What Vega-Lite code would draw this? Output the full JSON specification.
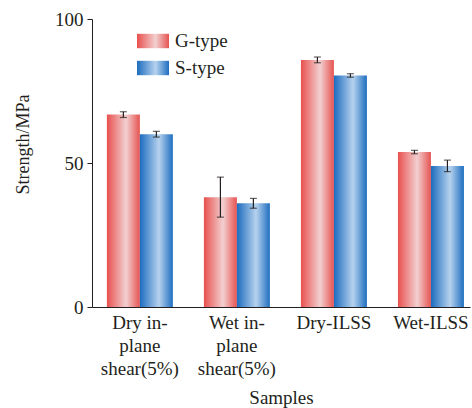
{
  "$schema": "https://vega.github.io/schema/vega-lite/v6.json",
  "width": 378,
  "height": 288,
  "autosize": "none",
  "padding": {"left": 92, "top": 19, "right": 2, "bottom": 101},
  "background": "white",
  "config": {
    "view": {"stroke": null},
    "font": "Liberation Serif",
    "axis": {"labelFont": "Liberation Serif", "titleFont": "Liberation Serif", "labelColor": "#231f20", "titleColor": "#231f20", "domainColor": "#231f20", "tickColor": "#231f20", "grid": false, "titleFontWeight": "normal"}
  },
  "data": {
    "values": [
      {"cat": "Dry in-|plane|shear(5%)", "type": "G-type", "val": 66.8, "lo": 65.8, "hi": 67.8},
      {"cat": "Dry in-|plane|shear(5%)", "type": "S-type", "val": 60.0, "lo": 59.0, "hi": 61.0},
      {"cat": "Wet in-|plane|shear(5%)", "type": "G-type", "val": 38.1, "lo": 31.2, "hi": 45.1},
      {"cat": "Wet in-|plane|shear(5%)", "type": "S-type", "val": 36.0, "lo": 34.3, "hi": 37.7},
      {"cat": "Dry-ILSS", "type": "G-type", "val": 85.8, "lo": 84.8, "hi": 86.8},
      {"cat": "Dry-ILSS", "type": "S-type", "val": 80.4, "lo": 79.8, "hi": 81.0},
      {"cat": "Wet-ILSS", "type": "G-type", "val": 53.8, "lo": 53.2, "hi": 54.4},
      {"cat": "Wet-ILSS", "type": "S-type", "val": 49.0, "lo": 47.0, "hi": 51.0}
    ]
  },
  "encoding": {
    "x": {
      "field": "cat", "type": "nominal", "sort": null,
      "scale": {"paddingInner": 0.32, "paddingOuter": 0.108, "align": 0.71},
      "axis": {"title": "Samples", "labelAngle": 0, "ticks": false, "labelFontSize": 19, "titleFontSize": 19, "labelLineHeight": 23, "labelPadding": 6, "titlePadding": 10, "labelExpr": "split(datum.label, '|')", "labelBaseline": "top"}
    },
    "xOffset": {"field": "type", "type": "nominal", "sort": ["G-type", "S-type"], "scale": {"domain": ["G-type", "S-type"], "paddingInner": 0, "paddingOuter": 0}},
    "y": {
      "field": "val", "type": "quantitative",
      "scale": {"domain": [0, 100]},
      "axis": {"title": "Strength/MPa", "values": [0, 50, 100], "labelFontSize": 19, "titleFontSize": 18, "tickSize": 5, "labelPadding": 4, "titlePadding": 22, "titleY": 125}
    }
  },
  "layer": [
    {
      "mark": {"type": "bar", "strokeWidth": 0},
      "encoding": {
        "color": {
          "field": "type", "type": "nominal",
          "scale": {"domain": ["G-type", "S-type"], "range": [
            {"expr": "{gradient: 'linear', x1: 0, y1: 0, x2: 1, y2: 0, stops: [{offset: 0, color: '#e8504e'}, {offset: 0.58, color: '#f2d0d0'}, {offset: 1, color: '#e65452'}]}"},
            {"expr": "{gradient: 'linear', x1: 0, y1: 0, x2: 1, y2: 0, stops: [{offset: 0, color: '#1c6cbf'}, {offset: 0.58, color: '#b6d2ee'}, {offset: 1, color: '#1e6ec0'}]}"}
          ]},
          "legend": {
            "title": null, "orient": "none", "legendX": 45, "legendY": 6,
            "symbolType": "M-1,-0.45h2v0.9h-2z", "symbolSize": 1024, "symbolStrokeWidth": 0, "symbolOpacity": 1,
            "labelFontSize": 19, "labelFont": "Liberation Serif", "labelColor": "#231f20",
            "rowPadding": 1, "labelOffset": 6
          }
        }
      }
    },
    {
      "mark": {"type": "rule", "color": "#231f20", "strokeWidth": 1.2},
      "encoding": {
        "y": {"field": "lo", "type": "quantitative"},
        "y2": {"field": "hi"}
      }
    },
    {
      "mark": {"type": "tick", "color": "#231f20", "thickness": 1.2, "size": 7},
      "encoding": {"y": {"field": "lo", "type": "quantitative"}}
    },
    {
      "mark": {"type": "tick", "color": "#231f20", "thickness": 1.2, "size": 7},
      "encoding": {"y": {"field": "hi", "type": "quantitative"}}
    }
  ]
}
